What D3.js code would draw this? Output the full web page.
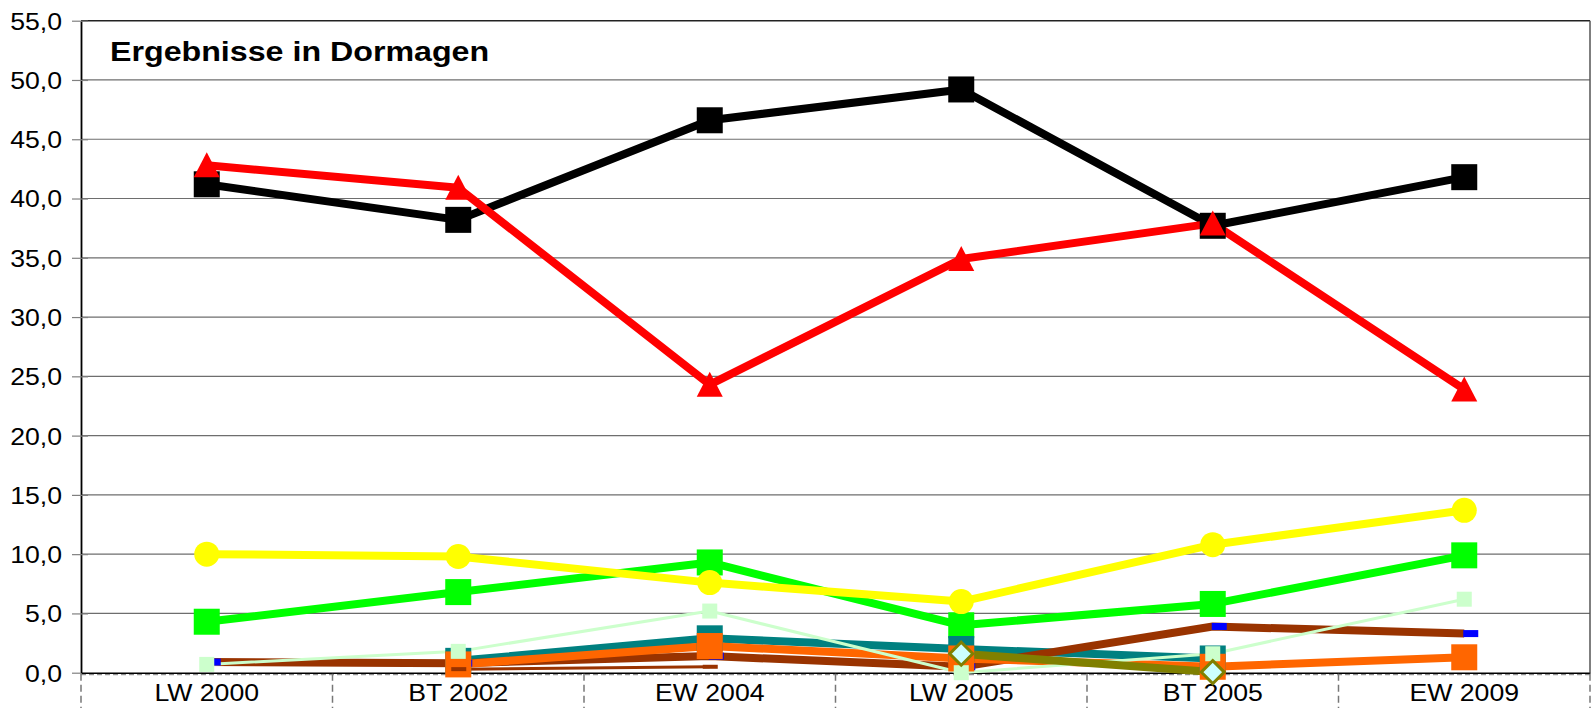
<!DOCTYPE html>
<html><head><meta charset="utf-8">
<script src="https://cdn.jsdelivr.net/npm/d3@7"></script>
<style>body{margin:0;background:#fff}svg{display:block}text{font-family:"Liberation Sans",Arial,sans-serif}</style>
</head><body><svg id="c" width="1596" height="708"></svg>
<script>
const categories = ["LW 2000","BT 2002","EW 2004","LW 2005","BT 2005","EW 2009"];
const yTicks = [0,5,10,15,20,25,30,35,40,45,50,55];
const cdu      = [41.2, 38.2, 46.6, 49.2, 37.7, 41.8];
const spd      = [42.8, 40.9, 24.3, 34.9, 37.9, 23.9];
const gruene   = [4.3, 6.8, 9.3, 4.0, 5.8, 9.9];
const fdp      = [10.0, 9.8, 7.6, 6.0, 10.8, 13.7];
const teal     = [null, 1.0, 2.9, 2.0, 1.2, null];
const brown    = [0.9, 0.8, 1.4, 0.5, 3.9, 3.3];
const orange   = [null, 0.7, 2.25, 1.2, 0.5, 1.3];
const thinBrown= [null, 0.3, 0.5, null, null, null];
const lightGreen=[0.7, 1.8, 5.2, 0.0, 1.6, 6.2];
const olive    = [null, null, null, 1.6, 0.05, null];

const series = [
  {v:cdu, color:"#000000", w:8, m:"square", ms:26, fill:"#000000"},
  {v:spd, color:"#ff0000", w:8, m:"triangle", ms:26, fill:"#ff0000"},
  {v:gruene, color:"#00ff00", w:8, m:"square", ms:26, fill:"#00ff00"},
  {v:fdp, color:"#ffff00", w:8, m:"circle", ms:25, fill:"#ffff00"},
  {v:teal, color:"#008080", w:8, m:"square", ms:26, fill:"#008080"},
  {v:brown, color:"#993300", w:8, m:"dash", ms:15, fill:"#0000ff"},
  {v:orange, color:"#ff6600", w:8, m:"square", ms:26, fill:"#ff6600"},
  {v:thinBrown, color:"#993300", w:3, m:"dashc", ms:15, fill:"#993300"},
  {v:lightGreen, color:"#ccffcc", w:3, m:"square", ms:15, fill:"#ccffcc"},
  {v:olive, color:"#808000", w:8, m:"diamond", ms:26, fill:"#ccffff", stroke:"#808000"}
];

const L=81, R=1590, T=20.7, B=672.7;
const x = d3.scaleBand().domain(categories).range([L,R]);
const y = d3.scaleLinear().domain([0,55]).range([B,T]);
const cx = c => x(c)+x.bandwidth()/2;
const svg = d3.select("#c");
const fmt = v => d3.format(".1f")(v).replace(".",",");
const SX = 1.11;

// gridlines
svg.append("g").selectAll("line").data(yTicks.filter(t=>t>0)).join("line")
  .attr("x1",L).attr("x2",R).attr("y1",d=>y(d)).attr("y2",d=>y(d))
  .attr("stroke",d=>d===55?"#222":"#6e6e6e").attr("stroke-width",d=>d===55?1.5:1.2);
// right border
svg.append("line").attr("x1",R).attr("x2",R).attr("y1",T).attr("y2",B).attr("stroke","#555").attr("stroke-width",1.5);

// y axis
const yAxis = d3.axisLeft(y).tickValues(yTicks).tickSize(0).tickFormat(fmt);
const gy = svg.append("g").attr("transform",`translate(${L},0)`).call(yAxis);
gy.select(".domain").attr("stroke","#000").attr("stroke-width",1.8);
gy.selectAll(".tick text").remove();
gy.selectAll(".tick").each(function(d){
  const g=d3.select(this);
  g.append("line").attr("x1",-9).attr("x2",d===0?0:7).attr("stroke","#808080").attr("stroke-width",1.2);
  g.append("text").text(fmt(d)).attr("fill","#000").attr("font-size",24)
   .attr("text-anchor","end").attr("dy","0.35em")
   .attr("transform",`translate(-19,0) scale(${SX},1)`);
});

// x axis
const xAxis = d3.axisBottom(x).tickSize(0).tickFormat(d=>d);
const gx = svg.append("g").attr("transform",`translate(0,${B})`).call(xAxis);
gx.select(".domain").attr("stroke","#000").attr("stroke-width",1.5);
gx.selectAll(".tick text").remove();
gx.selectAll(".tick").each(function(d){
  d3.select(this).append("text").text(d).attr("fill","#000").attr("font-size",24)
   .attr("text-anchor","middle").attr("transform",`translate(0,28) scale(${SX},1)`);
});
svg.append("line").attr("x1",L).attr("x2",R).attr("y1",B+2).attr("y2",B+2)
  .attr("stroke","#777").attr("stroke-width",1).attr("stroke-dasharray","5,3");
const bounds = categories.map(c=>x(c)).concat([R]);
svg.append("g").selectAll("line").data(bounds).join("line")
  .attr("x1",d=>d).attr("x2",d=>d).attr("y1",B+1).attr("y2",708)
  .attr("stroke","#777").attr("stroke-width",1.5).attr("stroke-dasharray","7,4");

// title
svg.append("text").text("Ergebnisse in Dormagen").attr("font-size",28).attr("font-weight","bold")
  .attr("transform",`translate(110,61) scale(1.15,1)`).attr("fill","#000");

// lines
const line = d3.line().defined(d=>d.v!=null).x(d=>cx(d.c)).y(d=>y(d.v));
series.forEach(s=>{
  const pts = categories.map((c,i)=>({c, v:s.v[i]}));
  svg.append("path").datum(pts).attr("d",line).attr("fill","none")
    .attr("stroke",s.color).attr("stroke-width",s.w).attr("stroke-linejoin","round");
});
// markers
series.forEach(s=>{
  const g = svg.append("g");
  categories.forEach((c,i)=>{
    const v=s.v[i]; if(v==null) return;
    const px=cx(c), py=y(v), h=s.ms/2;
    if(s.m==="square") g.append("rect").attr("x",px-h).attr("y",py-h).attr("width",s.ms).attr("height",s.ms).attr("fill",s.fill);
    else if(s.m==="circle") g.append("circle").attr("cx",px).attr("cy",py).attr("r",h).attr("fill",s.fill);
    else if(s.m==="triangle") g.append("path").attr("d",`M${px},${py-h}L${px+h},${py+h-1}L${px-h},${py+h-1}Z`).attr("fill",s.fill);
    else if(s.m==="diamond") g.append("path").attr("d",`M${px},${py-h+1.5}L${px+h-1.5},${py}L${px},${py+h-1.5}L${px-h+1.5},${py}Z`).attr("fill",s.fill).attr("stroke",s.stroke).attr("stroke-width",3);
    else if(s.m==="dash") g.append("rect").attr("x",px-1).attr("y",py-3.5).attr("width",s.ms).attr("height",7).attr("fill",s.fill);
    else if(s.m==="dashc") g.append("rect").attr("x",px-7).attr("y",py-2).attr("width",s.ms).attr("height",4).attr("fill",s.fill);
  });
});
</script></body></html>
